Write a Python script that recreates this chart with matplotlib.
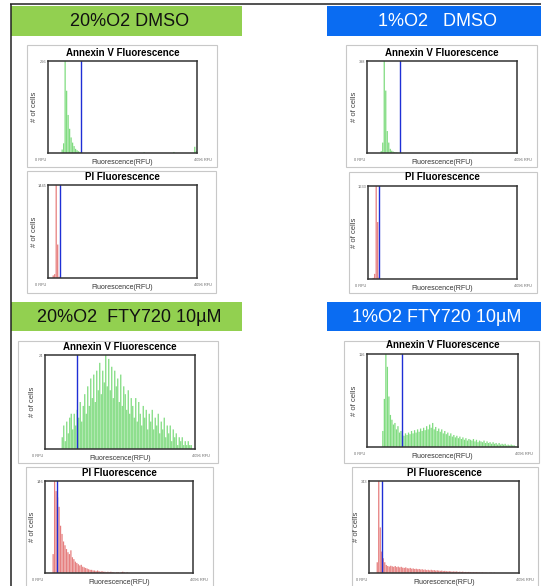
import numpy as np
import matplotlib.pyplot as plt
from matplotlib.patches import Rectangle

plt.rcParams['font.family'] = ['Liberation Sans', 'DejaVu Sans']

W, H = 541, 586
N_BINS = 100
RFU_MAX = 4096
bin_w = RFU_MAX / N_BINS

# ---- headers ----
headers = ["20%O2 DMSO", "1%O2   DMSO", "20%O2  FTY720 10µM", "1%O2 FTY720 10µM"]
header_colors = ["#92d050", "#0a6cf2", "#92d050", "#0a6cf2"]
header_text_colors = ["#111111", "white", "#111111", "white"]

# ---- histogram data (bin index, count) ----
# 20% O2 DMSO, Annexin V
a20d_bins = [9, 10, 11, 12, 13, 14, 15, 16, 17, 18, 19, 20, 21, 22, 64, 84, 98, 99]
a20d_cnt = [10, 28, 266, 180, 110, 70, 45, 30, 20, 12, 8, 5, 3, 2, 2, 3, 18, 6]
# 1% O2 DMSO, Annexin V
a1d_bins = [9, 10, 11, 12, 13, 14, 15, 16, 17, 18, 19, 20, 70, 99]
a1d_cnt = [8, 45, 398, 270, 95, 45, 18, 10, 6, 4, 3, 2, 2, 4]
# 20% O2 DMSO, PI
p20d_bins = [3, 4, 5, 6, 7]
p20d_cnt = [40, 60, 1445, 520, 20]
# 1% O2 DMSO, PI
p1d_bins = [3, 4, 5, 6, 7]
p1d_cnt = [20, 90, 1633, 1000, 30]
# 20% O2 FTY720, Annexin V (bins 11..97)
a20f_start = 11
a20f_cnt = [3, 6, 2, 7, 4, 8, 9, 5, 9, 6, 10, 8, 12, 7, 11, 14, 9, 16, 11, 18,
            13, 19, 12, 20, 15, 22, 14, 20, 17, 24, 16, 23, 15, 21, 13, 20, 16, 18, 12, 19,
            11, 16, 14, 10, 15, 9, 13, 11, 8, 13, 7, 12, 9, 6, 11, 8, 10, 5, 9, 7,
            10, 5, 8, 6, 9, 4, 7, 5, 8, 3, 6, 4, 6, 2, 5, 3, 4, 1, 3, 2,
            3, 1, 2, 1, 2, 1, 1]
# 1% O2 FTY720, Annexin V (bins 10..98)
a1f_start = 10
a1f_cnt = [20, 60, 116, 100, 63, 40, 34, 28, 30, 22, 26, 18, 20, 15, 14, 17, 15, 18, 16, 20,
           17, 21, 18, 22, 19, 23, 20, 24, 21, 26, 22, 28, 24, 30, 22, 25, 20, 23, 19, 22,
           17, 20, 16, 18, 14, 17, 13, 15, 12, 14, 11, 13, 10, 12, 9, 11, 8, 10, 9, 8,
           10, 7, 9, 6, 8, 7, 6, 8, 5, 7, 5, 6, 4, 6, 4, 5, 3, 5, 3, 4,
           3, 4, 2, 3, 2, 3, 2, 2, 1]
# 20% O2 FTY720, PI (bins 5..55)
p20f_start = 5
p20f_cnt = [30, 146, 130, 120, 105, 75, 62, 50, 44, 38, 33, 30, 36, 25, 22, 18, 16, 14, 12, 13,
            10, 9, 8, 7, 6, 5, 5, 4, 4, 3, 4, 3, 2, 3, 2, 2, 1, 2, 1, 2,
            1, 1, 0, 1, 1, 0, 1, 2, 1, 0, 1]
# 1% O2 FTY720, PI (bins 5..83)
p1f_start = 5
p1f_cnt = [40, 343, 170, 80, 55, 40, 30, 26, 24, 27, 25, 23, 26, 22, 24, 21, 23, 20, 19, 21,
           18, 17, 19, 16, 17, 15, 16, 14, 15, 13, 14, 12, 13, 11, 12, 10, 12, 10, 11, 9,
           10, 9, 8, 9, 7, 8, 7, 6, 7, 6, 5, 6, 5, 6, 4, 5, 4, 5, 3, 4,
           3, 4, 3, 2, 3, 2, 3, 2, 2, 1, 2, 1, 1, 1, 0, 1, 1, 0, 1]

ymax_labels = [266, 398, 1445, 1633, 24, 116, 146, 343]
gates = [900, 900, 330, 300, 880, 940, 330, 355]

GREEN = "#80dc80"
RED = "#e67f7f"
BLUE = "#1f2fd6"

fig = plt.figure(figsize=(W / 100, H / 100), dpi=100)
bg = fig.add_axes([0, 0, 1, 1])
bg.set_xlim(0, W)
bg.set_ylim(H, 0)
bg.axis('off')


def to_fig(x0, y0, x1, y1):
    return [x0 / W, 1 - y1 / H, (x1 - x0) / W, (y1 - y0) / H]


# frame lines
bg.plot([10, W], [4, 4], color='#222222', lw=1.1, solid_capstyle='butt')
bg.plot([11, 11], [4, H], color='#222222', lw=1.1, solid_capstyle='butt')

# header boxes
header_boxes = [(11, 6, 242, 36), (327, 6, 541, 36), (11, 302, 242, 331), (327, 302, 541, 331)]
for (x0, y0, x1, y1), txt, c, tc in zip(header_boxes, headers, header_colors, header_text_colors):
    bg.add_patch(Rectangle((x0, y0), x1 - x0, y1 - y0, color=c, lw=0))
    bg.text((x0 + x1) / 2 + 3, (y0 + y1) / 2 + 1, txt, ha='center', va='center',
            fontsize=13, color=tc)


def panel(box, rect, title, bins, counts, ymax, gate, color):
    bx0, by0, bx1, by1 = box
    bg.add_patch(Rectangle((bx0, by0), bx1 - bx0, by1 - by0, fill=False, ec='#c8c8c8', lw=0.8))
    x0, y0, x1, y1 = rect
    ax = fig.add_axes(to_fig(*rect))
    centres = (np.asarray(bins) + 0.5) * bin_w
    bars = ax.bar(centres, counts, width=bin_w * 0.85, color=color, lw=0)
    for b in bars:
        b.set_snap(False)
    ax.axvline(gate, color=BLUE, lw=1.0)
    ax.set_xlim(0, RFU_MAX)
    ax.set_ylim(0, ymax)
    ax.set_xticks([])
    ax.set_yticks([])
    for s in ax.spines.values():
        s.set_color('#333333')
        s.set_linewidth(1.1)
    cx = (x0 + x1) / 2
    bg.text(cx, y0 - 8.5, title, ha='center', va='center', fontsize=7, fontweight='bold')
    bg.text(x0 - 1.5, y0 + 1, str(ymax), ha='right', va='center', fontsize=2.8, color='#666666')
    bg.text(x0 - 7, y1 + 7, '0 RFU', ha='center', va='center', fontsize=2.8, color='#666666')
    bg.text(x1 + 6, y1 + 7, '4096 RFU', ha='center', va='center', fontsize=2.8, color='#666666')
    bg.text(cx, y1 + 9.5, 'Fluorescence(RFU)', ha='center', va='center', fontsize=5, color='#333333')
    bg.text(x0 - 13, (y0 + y1) / 2, '# of cells', ha='center', va='center', rotation=90,
            fontsize=5.5, color='#444444')
    return ax


panel((27, 45, 217, 167), (48, 61, 197, 153), 'Annexin V Fluorescence',
      a20d_bins, a20d_cnt, ymax_labels[0], gates[0], GREEN)
panel((346, 45, 537, 167), (367, 61, 517, 153), 'Annexin V Fluorescence',
      a1d_bins, a1d_cnt, ymax_labels[1], gates[1], GREEN)
panel((27, 171, 216, 293), (48, 185, 197, 278), 'PI Fluorescence',
      p20d_bins, p20d_cnt, ymax_labels[2], gates[2], RED)
panel((349, 172, 537, 293), (368, 186, 517, 279), 'PI Fluorescence',
      p1d_bins, p1d_cnt, ymax_labels[3], gates[3], RED)
panel((18, 341, 218, 463), (45, 355, 195, 449), 'Annexin V Fluorescence',
      range(a20f_start, a20f_start + len(a20f_cnt)), a20f_cnt, ymax_labels[4], gates[4], GREEN)
panel((344, 341, 539, 463), (367, 354, 518, 447), 'Annexin V Fluorescence',
      range(a1f_start, a1f_start + len(a1f_cnt)), a1f_cnt, ymax_labels[5], gates[5], GREEN)
panel((26, 467, 213, 595), (45, 481, 193, 573), 'PI Fluorescence',
      range(p20f_start, p20f_start + len(p20f_cnt)), p20f_cnt, ymax_labels[6], gates[6], RED)
panel((352, 467, 538, 595), (369, 481, 519, 573), 'PI Fluorescence',
      range(p1f_start, p1f_start + len(p1f_cnt)), p1f_cnt, ymax_labels[7], gates[7], RED)

fig.savefig('out.png', dpi=100)
